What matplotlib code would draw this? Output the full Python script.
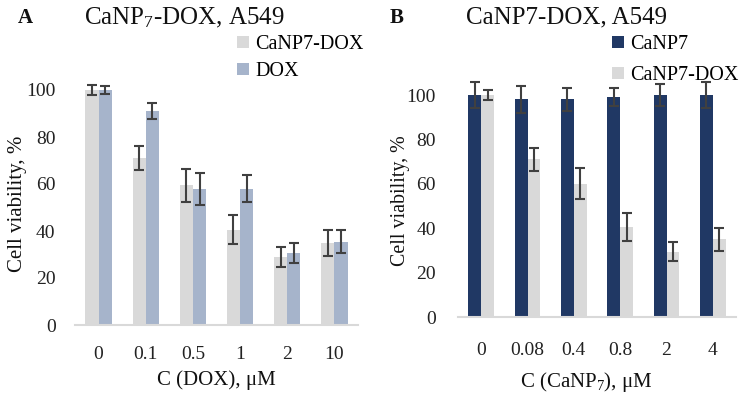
import matplotlib
matplotlib.use("Agg")
import matplotlib.pyplot as plt
import numpy as np

plt.rcParams['font.family'] = ['Liberation Serif', 'DejaVu Serif']
plt.rcParams['mathtext.fontset'] = 'custom'
plt.rcParams['mathtext.rm'] = 'Liberation Serif'
plt.rcParams['mathtext.it'] = 'Liberation Serif:italic'

# Panel A data
a_cats = ["0", "0.1", "0.5", "1", "2", "10"]
a_canp7dox = [100, 71, 59.5, 40.5, 29, 35]
a_canp7dox_err = [2.3, 5, 7, 6.2, 4.2, 5.5]
a_dox = [100, 91, 58, 58, 30.5, 35.5]
a_dox_err = [1.5, 3.3, 6.8, 5.8, 4.3, 5]

# Panel B data
b_cats = ["0", "0.08", "0.4", "0.8", "2", "4"]
b_canp7 = [100, 98, 98, 99, 100, 100]
b_canp7_err = [6, 6, 5, 4, 5, 6]
b_canp7dox = [100, 71, 60, 40.5, 29.5, 35]
b_canp7dox_err = [2.2, 5, 7, 6.2, 4.2, 5.2]

C_LIGHT = "#d9d9d9"
C_BLUE = "#a6b4cb"
C_NAVY = "#203864"
C_ERR = "#404040"

W, H = 746, 400
fig = plt.figure(figsize=(W / 100, H / 100), dpi=100)


def px_axes(x0, x1, y_zero, px_per_100, ytop=110):
    height = px_per_100 * ytop / 100
    return fig.add_axes([x0 / W, (H - y_zero) / H, (x1 - x0) / W, height / H])


def style(ax, cats, xpad, ypad):
    ax.set_ylim(0, 110)
    ax.set_xlim(-0.5, len(cats) - 0.5)
    ax.set_yticks([0, 20, 40, 60, 80, 100])
    ax.set_xticks(np.arange(len(cats)))
    ax.set_xticklabels(cats)
    for s in ["top", "right", "left"]:
        ax.spines[s].set_visible(False)
    ax.spines["bottom"].set_color(C_LIGHT)
    ax.spines["bottom"].set_linewidth(1.5)
    ax.tick_params(axis="both", length=0, labelsize=14, colors="#222222")
    ax.tick_params(axis="x", pad=xpad)
    ax.tick_params(axis="y", pad=ypad)
    ax.set_facecolor("none")


bw = 0.28
ekw = dict(ecolor=C_ERR, elinewidth=1.5, capsize=3.5, capthick=1.5)
leg_kw = dict(loc="upper left", bbox_transform=fig.transFigure, frameon=False,
              fontsize=14.5, handlelength=0.6, handleheight=0.6,
              handletextpad=0.3, borderpad=0, borderaxespad=0)

# Panel A
axA = px_axes(75, 358, 325, 235)
x = np.arange(len(a_cats))
axA.bar(x - bw / 2, a_canp7dox, bw, color=C_LIGHT, yerr=a_canp7dox_err,
        error_kw=ekw, label="CaNP7-DOX")
axA.bar(x + bw / 2, a_dox, bw, color=C_BLUE, yerr=a_dox_err,
        error_kw=ekw, label="DOX")
style(axA, a_cats, 15, 14)
axA.legend(bbox_to_anchor=(237 / W, 1 - 35 / H), labelspacing=0.4, **leg_kw)

# Panel B
axB = px_axes(458, 736, 317.3, 222.3)
x = np.arange(len(b_cats))
axB.bar(x - bw / 2, b_canp7, bw, color=C_NAVY, yerr=b_canp7_err,
        error_kw=ekw, label="CaNP7")
axB.bar(x + bw / 2, b_canp7dox, bw, color=C_LIGHT, yerr=b_canp7dox_err,
        error_kw=ekw, label="CaNP7-DOX")
style(axB, b_cats, 18, 16)
axB.legend(bbox_to_anchor=(612 / W, 1 - 35 / H), labelspacing=0.6, **leg_kw)

# Titles and labels
def ftext(xp, yp, s, **kw):
    fig.text(xp / W, 1 - yp / H, s, ha="center", va="center", color="#111111", **kw)

ftext(25, 18, "A", fontsize=15, fontweight="bold")
ftext(397, 18, "B", fontsize=15, fontweight="bold")
ftext(184, 18, r"CaNP$_{7}$-DOX, A549", fontsize=18)
ftext(567, 17, "CaNP7-DOX, A549", fontsize=18)
ftext(216, 380, "C (DOX), μM", fontsize=15)
ftext(586, 382, r"C (CaNP$_{7}$), μM", fontsize=15)
ftext(18, 204, "Cell viability, %", fontsize=15, rotation=90)
ftext(400, 201, "Cell viability, %", fontsize=14.3, rotation=90)

fig.savefig("out.png", dpi=100)
